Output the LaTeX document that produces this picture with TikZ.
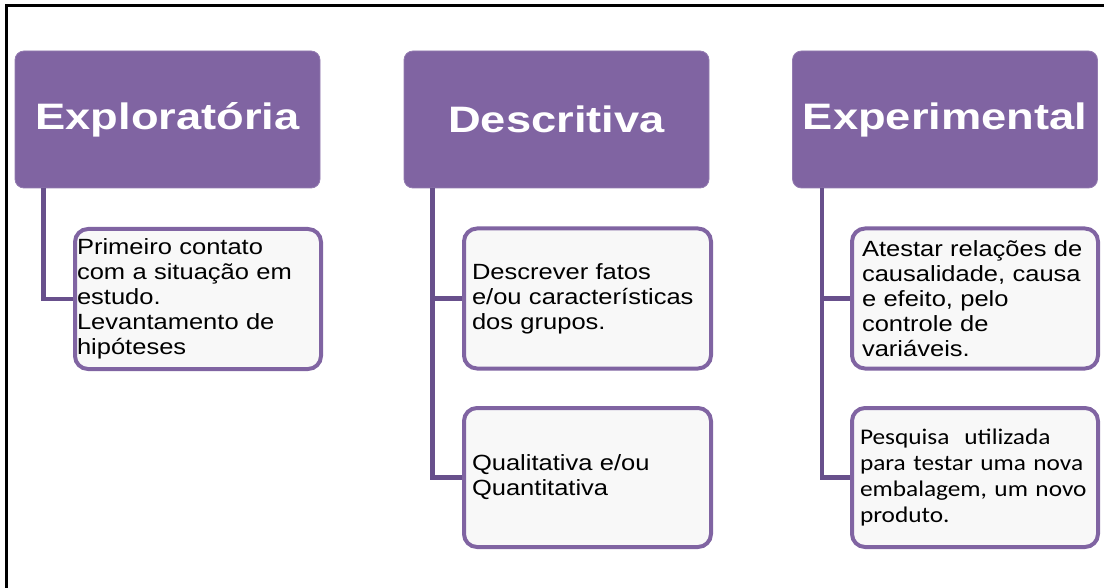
\documentclass[tikz,border=0pt]{standalone}
\usepackage{fontspec}
\setmainfont{Liberation Sans}
\newfontfamily\headfont{Liberation Sans}[FakeStretch=1.23]
\newfontfamily\bodyfont{Liberation Sans}[FakeStretch=1.16]
\newfontfamily\calfont{Carlito}[FakeStretch=1.13]
\newlength\px
\setlength\px{0.75pt}
\definecolor{hdrpurple}{HTML}{8064A2}
\definecolor{boxpurple}{HTML}{8064A2}
\definecolor{connpurple}{HTML}{68508C}
\definecolor{boxfill}{HTML}{F8F8F8}
\tikzset{
  header/.style={rounded corners=9\px, fill=hdrpurple, draw=hdrpurple!85!white,
    line width=0.6pt, minimum width=305\px, minimum height=137\px, inner sep=0pt,
    text=white, font=\headfont\bfseries\fontsize{27.6pt}{32pt}\selectfont},
  child/.style={rounded corners=13\px, draw=boxpurple, fill=boxfill,
    line width=4\px, minimum width=246\px, minimum height=140\px,
    inner ysep=0pt, align=left, text=black,
    font=\bodyfont\fontsize{16.5pt}{18.7pt}\selectfont},
  conn/.style={draw=connpurple, line width=4.5\px}
}
\begin{document}
\begin{tikzpicture}[x=0.75pt, y=-0.75pt]
\useasboundingbox (0,0) rectangle (1104,588);
% frame
\draw[line width=3\px, line cap=rect] (6,6) -- (1104,6);
\draw[line width=3\px, line cap=rect] (6,6) -- (6,588);
% headers
\node[header] (h1) at (167.5,119.5) {Exploratória};
\node[header] (h2) at (556.5,119.5) {Descritiva};
\node[header] (h3) at (945,119.5) {Experimental};
% children
\node[child, inner xsep=2\px, text width=242\px] (c1) at (198,299)
  {Primeiro contato\\com a situação em\\estudo.\\Levantamento de\\hipóteses};
\node[child, inner xsep=8\px, text width=231\px, minimum width=247\px] (d1) at (587.5,298.5)
  {Descrever fatos\\e/ou características\\dos grupos.};
\node[child, inner xsep=8\px, text width=231\px, minimum width=247\px, minimum height=139\px] (d2) at (587.5,477.5)
  {Qualitativa e/ou\\Quantitativa};
\node[child, inner xsep=10\px, text width=226\px] (e1) at (975,298.5)
  {Atestar relações de\\causalidade, causa\\e efeito, pelo\\controle de\\variáveis.};
\node[child, inner xsep=8\px, text width=230\px, minimum height=139\px,
  font=\calfont\fontsize{16.8pt}{19.5pt}\selectfont] (e2) at (975,477.5)
  {Pesquisa\ \ utilizada\\para testar uma nova\\embalagem, um novo\\produto.};
% connectors
\draw[conn] ([xshift=29\px]h1.south west) |- (c1.west);
\draw[conn] ([xshift=29\px]h2.south west) |- (d1.west);
\draw[conn] ([xshift=29\px]h2.south west) |- (d2.west);
\draw[conn] ([xshift=30\px]h3.south west) |- (e1.west);
\draw[conn] ([xshift=30\px]h3.south west) |- (e2.west);
\end{tikzpicture}
\end{document}
